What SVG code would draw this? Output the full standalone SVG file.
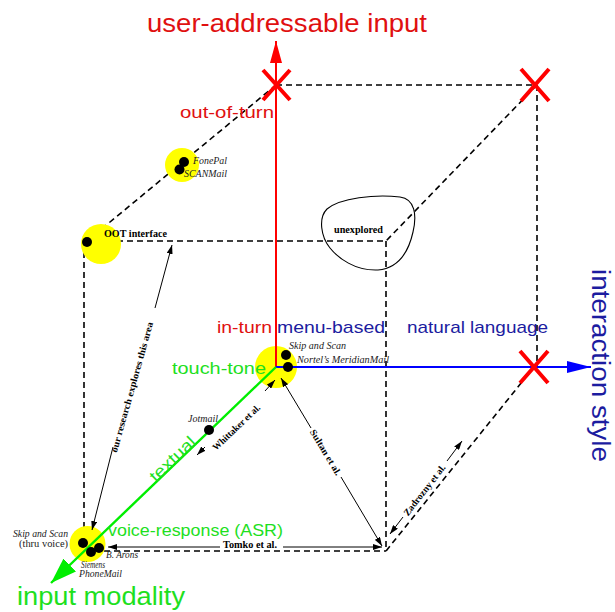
<svg xmlns="http://www.w3.org/2000/svg" width="615" height="612" viewBox="0 0 615 612">
  <style>
    .edge { stroke: #000; stroke-width: 1.6; stroke-dasharray: 6 4; fill: none; }
    .dim { stroke: #000; stroke-width: 1; fill: none; marker-end: url(#tip); }
    .spot { fill: #ffff00; }
    .dot { fill: #000; }
    .cross { stroke: #ff0000; stroke-width: 4; }
    .big { font-family: "Liberation Sans", Arial, sans-serif; font-size: 17px; }
    .huge { font-family: "Liberation Sans", Arial, sans-serif; font-size: 25px; }
    .ital { font-family: "Liberation Serif", "Times New Roman", serif; font-style: italic; font-size: 9.5px; fill: #222; }
    .rom { font-family: "Liberation Serif", "Times New Roman", serif; font-size: 9.5px; fill: #222; }
    .bold { font-family: "Liberation Serif", "Times New Roman", serif; font-weight: bold; font-size: 9.5px; fill: #000; }
    .red { fill: #e01010; }
    .blue { fill: #1c1ca0; }
    .green { fill: #1ee01e; }
  </style>
  <defs>
    <marker id="tip" markerUnits="userSpaceOnUse" markerWidth="9" markerHeight="6" refX="9" refY="3" orient="auto">
      <path d="M0,0 L9,3 L0,6 z" fill="#000"/>
    </marker>
    <marker id="redHead" markerUnits="userSpaceOnUse" markerWidth="22" markerHeight="12" refX="22" refY="6" orient="auto">
      <path d="M0,0 L22,6 L0,12 z" fill="#ff0000"/>
    </marker>
    <marker id="blueHead" markerUnits="userSpaceOnUse" markerWidth="24" markerHeight="12" refX="24" refY="6" orient="auto">
      <path d="M0,0 L24,6 L0,12 z" fill="#0000ff"/>
    </marker>
    <marker id="greenHead" markerUnits="userSpaceOnUse" markerWidth="26" markerHeight="18" refX="26" refY="9" orient="auto">
      <path d="M0,0 L26,9 L0,18 z" fill="#00ee00"/>
    </marker>
  </defs>

  <!-- cube edges -->
  <g id="cube">
    <line class="edge" x1="276" y1="85" x2="537" y2="85"/>
    <line class="edge" x1="537" y1="85" x2="537" y2="367"/>
    <line class="edge" x1="276" y1="85" x2="87" y2="241"/>
    <line class="edge" x1="537" y1="85" x2="386" y2="241"/>
    <line class="edge" x1="534" y1="367" x2="386" y2="551"/>
    <line class="edge" x1="87" y1="241" x2="386" y2="241"/>
    <line class="edge" x1="386" y1="241" x2="386" y2="551"/>
    <line class="edge" x1="84" y1="242" x2="84" y2="551"/>
    <line class="edge" x1="84" y1="551" x2="386" y2="551"/>
  </g>

  <!-- unexplored region -->
  <g id="unexplored">
    <path d="M327,209 C340,198 375,194 400,197 C415,199 417,215 413,232 C409,250 400,268 378,270 C355,271 338,258 330,248 C321,237 318,218 327,209 Z" fill="none" stroke="#000" stroke-width="1.1"/>
    <text class="bold" x="334" y="233" textLength="49" lengthAdjust="spacingAndGlyphs">unexplored</text>
  </g>

  <!-- highlighted system clusters -->
  <g id="spots">
    <circle class="spot" cx="182" cy="165" r="17"/>
    <circle class="spot" cx="101" cy="244" r="20"/>
    <circle class="spot" cx="276" cy="367" r="21"/>
    <circle class="spot" cx="87.5" cy="544" r="18"/>
  </g>

  <!-- axes -->
  <g id="axes">
    <line x1="276" y1="367" x2="276" y2="41" stroke="#ff0000" stroke-width="2" marker-end="url(#redHead)"/>
    <line x1="276" y1="367" x2="591" y2="367" stroke="#0000ff" stroke-width="2" marker-end="url(#blueHead)"/>
    <line x1="276" y1="367" x2="51" y2="583" stroke="#00ee00" stroke-width="2.4" marker-end="url(#greenHead)"/>
  </g>

  <!-- unreachable corners -->
  <g id="crosses">
    <path class="cross" d="M263,70 L290,100 M290,70 L263,100"/>
    <path class="cross" d="M521,69 L549,101 M549,69 L521,101"/>
    <path class="cross" d="M520,351 L548,383 M548,351 L520,383"/>
  </g>

  <!-- axis titles and category labels -->
  <g id="labels">
    <text class="huge red" x="147" y="32" textLength="280" lengthAdjust="spacingAndGlyphs">user-addressable input</text>
    <text class="big red" x="180" y="118" textLength="94" lengthAdjust="spacingAndGlyphs">out-of-turn</text>
    <text class="big red" x="217" y="333" textLength="55" lengthAdjust="spacingAndGlyphs">in-turn</text>
    <text class="big blue" x="277" y="333" textLength="108" lengthAdjust="spacingAndGlyphs">menu-based</text>
    <text class="big blue" x="407" y="333" textLength="141" lengthAdjust="spacingAndGlyphs">natural language</text>
    <text class="big green" x="172" y="374" textLength="94" lengthAdjust="spacingAndGlyphs">touch-tone</text>
    <text class="big green" transform="translate(156,483) rotate(-44)" textLength="57" lengthAdjust="spacingAndGlyphs">textual</text>
    <text class="big green" x="108" y="536" textLength="175" lengthAdjust="spacingAndGlyphs">voice-response (ASR)</text>
    <text class="huge green" x="17" y="605" font-size="26" textLength="168" lengthAdjust="spacingAndGlyphs">input modality</text>
    <text class="huge blue" transform="translate(592,269) rotate(90)" font-size="27" textLength="193" lengthAdjust="spacingAndGlyphs">interaction style</text>
  </g>

  <!-- systems -->
  <g id="fonepal">
    <circle class="dot" cx="184" cy="162" r="5"/>
    <circle class="dot" cx="179.5" cy="169.5" r="5"/>
    <text class="ital" x="193" y="164" textLength="34" lengthAdjust="spacingAndGlyphs">FonePal</text>
    <text class="ital" x="184" y="177" textLength="43" lengthAdjust="spacingAndGlyphs">SCANMail</text>
  </g>
  <g id="oot">
    <circle class="dot" cx="87" cy="242" r="5"/>
    <text class="bold" x="104" y="237" textLength="63" lengthAdjust="spacingAndGlyphs">OOT interface</text>
  </g>
  <g id="menu-systems">
    <circle class="dot" cx="286" cy="355" r="5"/>
    <circle class="dot" cx="288" cy="367" r="5"/>
    <text class="ital" x="289" y="349" textLength="57" lengthAdjust="spacingAndGlyphs">Skip and Scan</text>
    <text class="ital" x="297" y="363" textLength="92" lengthAdjust="spacingAndGlyphs">Nortel’s MeridianMail</text>
  </g>
  <g id="jotmail">
    <circle class="dot" cx="209" cy="430" r="5"/>
    <text class="ital" x="188" y="422" textLength="30" lengthAdjust="spacingAndGlyphs">Jotmail</text>
  </g>
  <g id="voice-systems">
    <circle class="dot" cx="83" cy="543" r="5"/>
    <circle class="dot" cx="91" cy="552" r="5"/>
    <circle class="dot" cx="99" cy="548" r="5"/>
    <text class="ital" x="13" y="537" textLength="55" lengthAdjust="spacingAndGlyphs">Skip and Scan</text>
    <text class="rom" x="19" y="547" textLength="49" lengthAdjust="spacingAndGlyphs">(thru  voice)</text>
    <text class="ital" x="106" y="558" textLength="32" lengthAdjust="spacingAndGlyphs">B. Arons</text>
    <text class="ital" x="81" y="567.5" font-size="8.5" textLength="24" lengthAdjust="spacingAndGlyphs">Siemens</text>
    <text class="ital" x="79" y="577" font-size="8.5" textLength="43" lengthAdjust="spacingAndGlyphs">PhoneMail</text>
  </g>

  <!-- related-work spans -->
  <g id="connectors">
    <line class="dim" x1="113" y1="447" x2="92" y2="530"/>
    <line class="dim" x1="155" y1="308" x2="172" y2="245"/>
    <line class="dim" x1="205" y1="447" x2="197" y2="455"/>
    <line class="dim" x1="265" y1="391" x2="275" y2="380"/>
    <line class="dim" x1="311" y1="428" x2="281" y2="378"/>
    <line class="dim" x1="341" y1="477" x2="382" y2="546"/>
    <line class="dim" x1="220" y1="547" x2="108" y2="547"/>
    <line class="dim" x1="283" y1="547" x2="382" y2="547"/>
    <line class="dim" x1="403" y1="517" x2="390" y2="534"/>
    <line class="dim" x1="447" y1="461" x2="462" y2="441"/>
  </g>
  <g id="span-labels">
    <text class="bold" transform="translate(135,388) rotate(-74.3)" text-anchor="middle" textLength="135" lengthAdjust="spacingAndGlyphs">our research explores this area</text>
    <text class="bold" transform="translate(216,451) rotate(-43.5)" textLength="62" lengthAdjust="spacingAndGlyphs">Whittaker et al.</text>
    <text class="bold" transform="translate(323,454) rotate(59)" text-anchor="middle" textLength="52" lengthAdjust="spacingAndGlyphs">Sultan et al.</text>
    <text class="bold" x="223" y="548" textLength="54" lengthAdjust="spacingAndGlyphs">Tomko et al.</text>
    <text class="bold" transform="translate(427,492) rotate(-52)" text-anchor="middle" textLength="62" lengthAdjust="spacingAndGlyphs">Zadrozny et al.</text>
  </g>
</svg>
